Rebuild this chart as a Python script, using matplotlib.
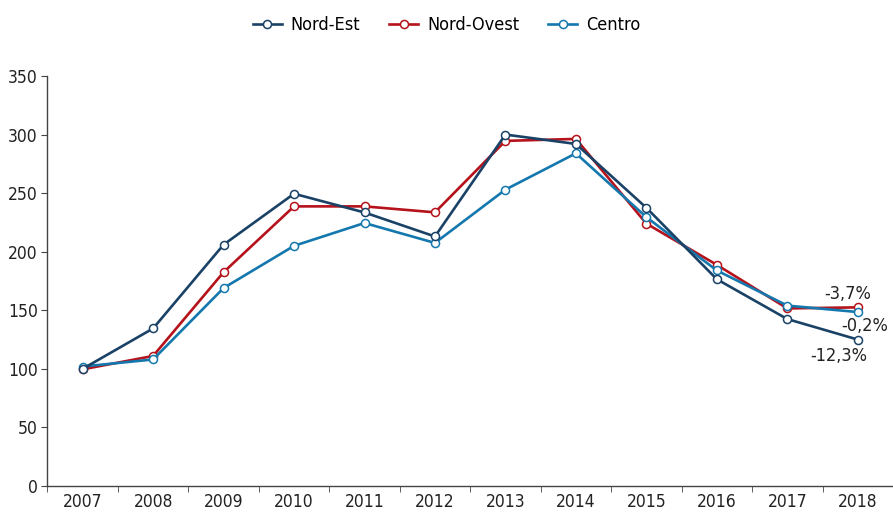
import matplotlib.pyplot as plt

plt.rcParams['font.family'] = ['DejaVu Sans']
plt.rcParams['font.stretch'] = 'condensed'

years = ['2007', '2008', '2009', '2010', '2011', '2012', '2013', '2014', '2015', '2016', '2017', '2018']
nord_est = [100, 134.5, 206, 249.5, 233.5, 213, 300, 292, 237.5, 176.5, 142.5, 125]
nord_ovest = [99.6, 111, 182.5, 238.7, 238.7, 233.6, 294.6, 296.3, 224, 188.8, 151.6, 152.5]
centro = [102, 108, 169, 205, 224.5, 207.5, 253, 284, 229.5, 184, 154, 148.5]
labels = ['-3,7%', '-0,2%', '-12,3%']

c_ne = '#1a4266'
c_no = '#b5121b'
c_ce = '#1478ae'

fig = plt.figure(figsize=(8.93, 5.13), dpi=100)
ax = fig.add_axes([47.4 / 893, 1 - 486 / 513, 1 - 47.4 / 893, (486 - 76) / 513])

x = list(range(len(years)))
mk = dict(marker='o', markersize=5.8, markerfacecolor='white', markeredgewidth=1.1, linewidth=1.9)
ax.plot(x, nord_est, color=c_ne, label='Nord-Est', zorder=3, **mk)
ax.plot(x, nord_ovest, color=c_no, label='Nord-Ovest', zorder=2, **mk)
ax.plot(x, centro, color=c_ce, label='Centro', zorder=2.5, **mk)

ax.set_xlim(-0.5, 11.38)
ax.set_ylim(0, 350)
ax.set_yticks(range(0, 351, 50))
ax.set_xticks(x)
ax.set_xticklabels(years)
ax.set_xticks([i + 0.5 for i in range(-1, 12)], minor=True)
ax.tick_params(axis='x', which='major', length=0, pad=5, labelsize=12.5, colors='#222222')
ax.tick_params(axis='x', which='minor', length=4, direction='out', color='#444444')
ax.tick_params(axis='y', length=4, direction='out', pad=3, labelsize=12.5, color='#444444', labelcolor='#222222')

for s in ['top', 'right']:
    ax.spines[s].set_visible(False)
for s in ['left', 'bottom']:
    ax.spines[s].set_color('#444444')
    ax.spines[s].set_linewidth(1.0)

ax.text(10.85, nord_ovest[-1] + 11, labels[0], fontsize=13, color='#222222', ha='center', va='center')
ax.text(11.1, centro[-1] - 12, labels[1], fontsize=13, color='#222222', ha='center', va='center')
ax.text(10.73, nord_est[-1] - 14, labels[2], fontsize=13, color='#222222', ha='center', va='center')

fig.legend(loc='upper center', bbox_to_anchor=(0.5, 1.0), ncol=3, frameon=False, fontsize=13,
           handlelength=1.6, columnspacing=1.6, handletextpad=0.5)

fig.savefig('out.png', dpi=100)
